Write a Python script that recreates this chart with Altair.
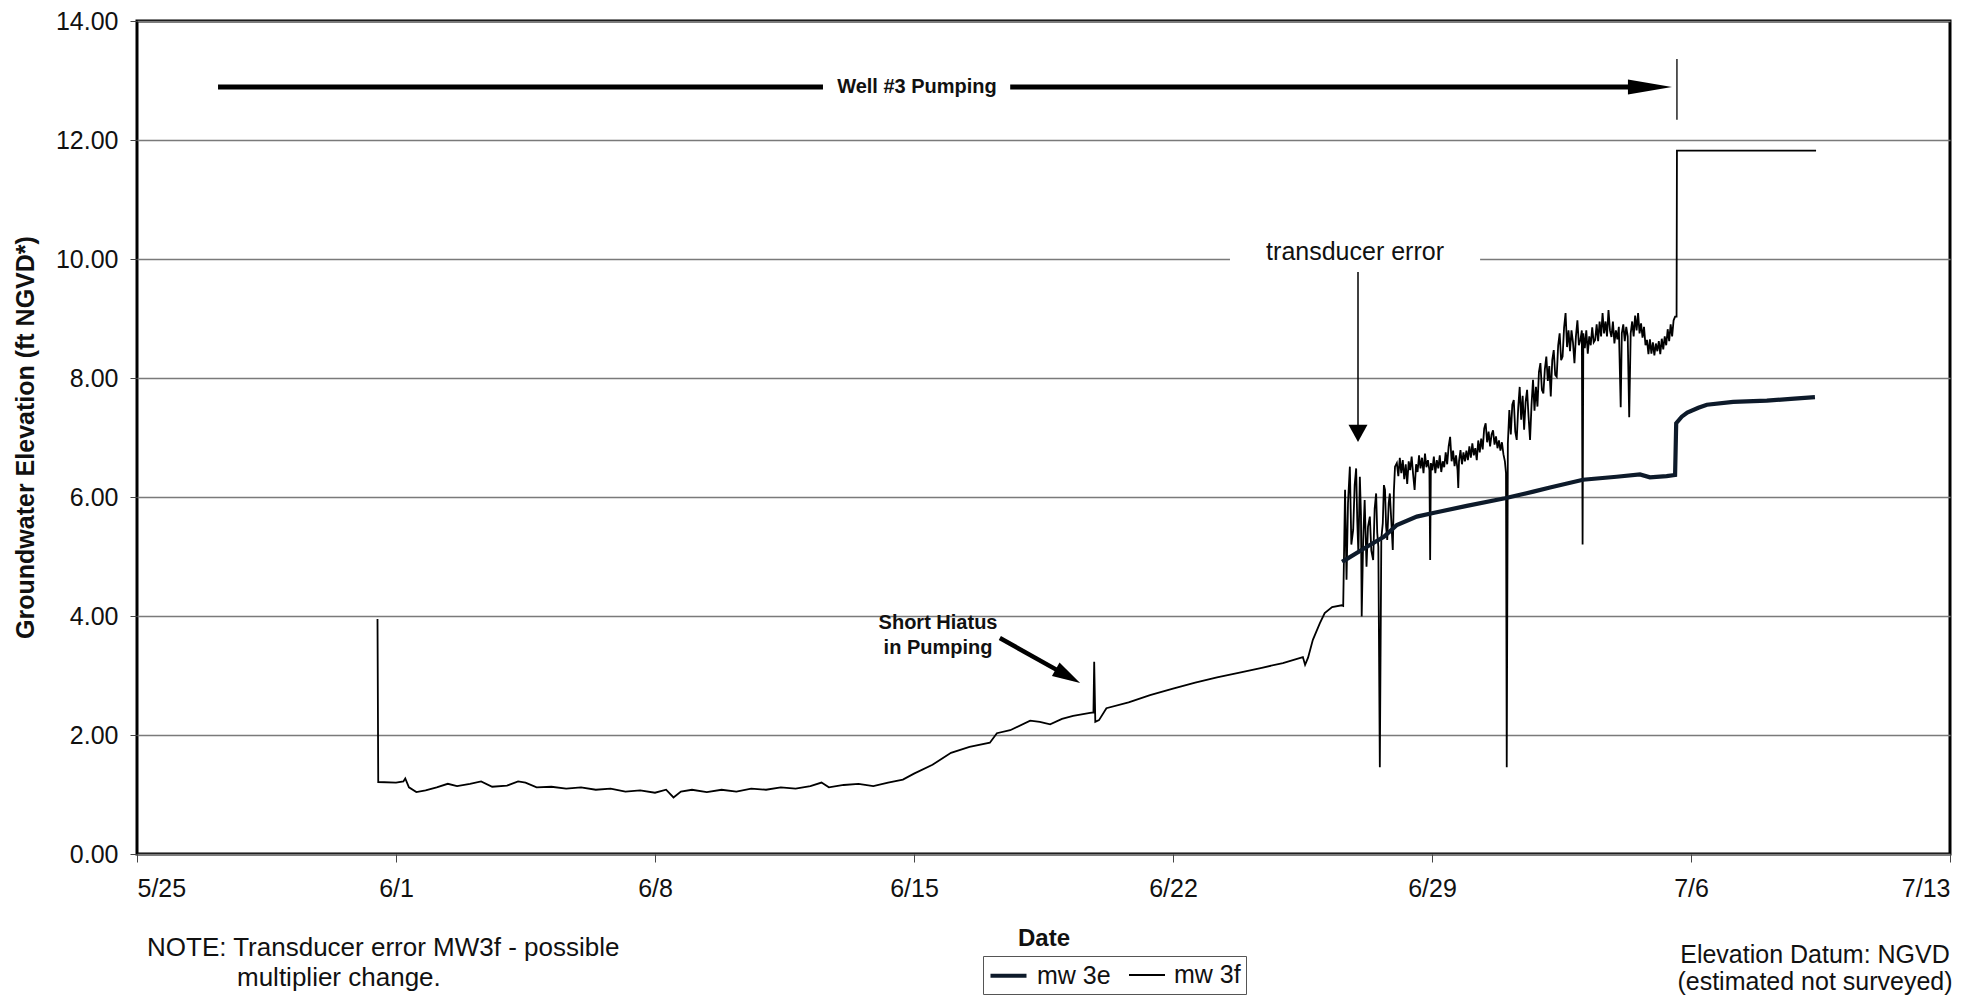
import json
import altair as alt
import pandas as pd

FONT = "Liberation Sans, Arial, sans-serif"

# ---------------- data (days after 5/25, elevation ft NGVD) ----------------
x_tick_days = [0, 7, 14, 21, 28, 35, 42, 49]
x_tick_labels = ["5/25", "6/1", "6/8", "6/15", "6/22", "6/29", "7/6", "7/13"]
y_ticks = [0, 2, 4, 6, 8, 10, 12, 14]
series_names = ["mw 3e", "mw 3f"]

# mw 3f, smooth part (5/31 - 6/26)
mw3f_day = [6.50, 6.52, 7.0, 7.2, 7.25, 7.35, 7.55, 7.8, 8.1, 8.4, 8.65, 9.0, 9.3, 9.6,
            10.0, 10.3, 10.5, 10.8, 11.2, 11.6, 12.0, 12.4, 12.8, 13.2, 13.6, 14.0, 14.3,
            14.5, 14.7, 15.0, 15.4, 15.8, 16.2, 16.6, 17.0, 17.4, 17.8, 18.2, 18.5, 18.7,
            19.1, 19.5, 19.9, 20.3, 20.7, 21.0, 21.5, 22.0, 22.5, 23.05, 23.24, 23.6, 24.14,
            24.4, 24.68, 25.0, 25.3, 25.76, 25.85, 25.87, 25.9, 26.0, 26.2, 26.8, 27.38,
            28.0, 28.6, 29.19, 29.8, 30.4, 30.97, 31.51, 31.57, 31.65, 31.78, 31.97, 32.1,
            32.3, 32.56, 32.6]
mw3f_val = [3.95, 1.21, 1.20, 1.22, 1.27, 1.12, 1.04, 1.07, 1.12, 1.18, 1.14, 1.18, 1.22, 1.13,
            1.15, 1.22, 1.20, 1.12, 1.13, 1.10, 1.12, 1.08, 1.10, 1.05, 1.07, 1.03, 1.08,
            0.95, 1.05, 1.08, 1.04, 1.08, 1.05, 1.10, 1.08, 1.12, 1.10, 1.14, 1.20, 1.12,
            1.16, 1.18, 1.14, 1.20, 1.25, 1.35, 1.50, 1.70, 1.80, 1.87, 2.03, 2.08, 2.24,
            2.22, 2.18, 2.27, 2.32, 2.37, 2.38, 3.23, 2.22, 2.25, 2.45, 2.55, 2.67,
            2.78, 2.88, 2.97, 3.05, 3.13, 3.21, 3.31, 3.18, 3.30, 3.60, 3.88, 4.05,
            4.15, 4.18, 4.17]

# mw 3f, noisy part after the transducer error (6/26 - 7/5) and final plateau
noise_day = [32.65, 32.69, 32.73, 32.78, 32.82, 32.87, 32.91, 32.95, 32.98, 33.01, 33.05,
             33.08, 33.10, 33.14, 33.18, 33.23, 33.27, 33.32, 33.36, 33.41, 33.45, 33.49,
             33.52, 33.55, 33.59, 33.63, 33.67, 33.70, 33.73, 33.76, 33.79, 33.83, 33.86,
             33.90, 33.94, 33.97, 34.00,
             34.05, 34.09, 34.13, 34.17, 34.21, 34.25, 34.29, 34.33, 34.37, 34.41, 34.45,
             34.49, 34.53, 34.57, 34.61, 34.65, 34.69, 34.73, 34.77, 34.81, 34.85, 34.89,
             34.93, 34.95, 34.97, 35.01, 35.05, 35.09, 35.13, 35.17, 35.21, 35.25, 35.29,
             35.33, 35.37, 35.41, 35.45, 35.49, 35.53, 35.57, 35.61, 35.65, 35.69, 35.71,
             35.73, 35.77, 35.81, 35.85, 35.89, 35.93, 35.97, 36.01, 36.05, 36.09, 36.13,
             36.17, 36.21, 36.25, 36.29, 36.33, 36.37, 36.41, 36.45, 36.49, 36.53, 36.57,
             36.61, 36.65, 36.69, 36.73, 36.77, 36.81, 36.85, 36.89, 36.93, 36.97, 37.00,
             37.02,
             37.05, 37.09, 37.13, 37.17, 37.21, 37.25, 37.29, 37.33, 37.37, 37.41, 37.45,
             37.49, 37.53, 37.57, 37.61, 37.65, 37.69, 37.73, 37.77, 37.81, 37.85, 37.89,
             37.93, 37.97, 38.01, 38.05, 38.09, 38.13, 38.17, 38.21, 38.25, 38.29, 38.33,
             38.37, 38.41, 38.45, 38.49, 38.53, 38.57, 38.61, 38.65, 38.69, 38.73, 38.77,
             38.81, 38.85, 38.89, 38.93, 38.97, 39.01, 39.05, 39.07, 39.09, 39.13, 39.17,
             39.21, 39.25, 39.29, 39.33, 39.37, 39.41, 39.45, 39.49, 39.53, 39.57, 39.61,
             39.65, 39.69, 39.73, 39.77, 39.81, 39.85, 39.89, 39.93, 39.97, 40.01, 40.05,
             40.10, 40.13, 40.17, 40.21, 40.25, 40.29, 40.33, 40.37, 40.41, 40.45, 40.49,
             40.53, 40.57, 40.61, 40.65, 40.69, 40.73, 40.77, 40.81, 40.85, 40.89, 40.93,
             40.97, 41.01, 41.05, 41.09, 41.13, 41.17, 41.21, 41.25, 41.29, 41.33, 41.37,
             41.41, 41.45, 41.49, 41.53, 41.57, 41.61, 41.62, 45.38]
noise_val = [6.12, 4.61, 5.90, 6.51, 5.20, 5.45, 6.20, 6.48, 5.60, 5.05, 6.34,
             5.70, 3.99, 5.28, 5.95, 4.83, 5.50, 5.67, 5.10, 4.94, 5.80, 6.06,
             5.40, 5.16, 1.46, 5.30, 5.56, 6.20, 6.12, 5.50, 5.28, 5.90, 6.06,
             5.60, 5.11, 6.10, 6.51,
             6.57, 6.35, 6.66, 6.40, 6.62, 6.30, 6.55, 6.22, 6.60, 6.45, 6.68,
             6.38, 6.12, 6.55, 6.42, 6.70, 6.48, 6.66, 6.40, 6.73, 6.50, 6.62,
             6.45, 4.94, 6.57, 6.45, 6.68, 6.40, 6.62, 6.48, 6.70, 6.42, 6.60,
             6.50, 6.75, 6.55, 6.85, 7.01, 6.60, 6.78, 6.52, 6.70, 6.45, 6.15,
             6.60, 6.79, 6.55, 6.75, 6.60, 6.78, 6.62, 6.85, 6.66, 6.90, 6.70,
             6.82, 6.62, 6.95, 6.75, 6.98, 6.80, 7.15, 7.24, 6.92, 7.10, 6.85,
             7.05, 7.12, 6.88, 7.02, 6.82, 6.95, 6.78, 6.92, 6.72, 6.60, 6.40,
             1.46,
             6.90, 7.46, 7.05, 7.55, 7.63, 7.10, 6.96, 7.50, 7.85, 7.30, 7.70,
             7.13, 7.60, 7.80, 7.35, 6.96, 7.55, 7.97, 7.45, 7.85, 7.52, 8.10,
             8.25, 7.80, 7.74, 8.15, 8.36, 7.95, 8.20, 7.69, 8.30, 8.47, 8.05,
             8.02, 8.55, 8.75, 8.30, 8.36, 8.85, 9.09, 8.52, 8.80, 8.45, 8.80,
             8.60, 8.25, 8.70, 8.97, 8.55, 8.64, 8.80, 5.20, 8.75, 8.50, 8.80,
             8.41, 8.70, 8.55, 8.85, 8.60, 8.64, 8.90, 8.62, 8.95, 8.70, 9.09,
             8.75, 8.95, 8.70, 9.14, 8.80, 8.69, 8.95, 8.58, 8.80, 8.65, 8.86,
             7.51, 8.75, 8.90, 8.62, 8.86, 8.70, 7.34, 8.75, 8.95, 8.70, 9.05,
             8.80, 9.09, 8.75, 8.92, 8.68, 8.86, 8.55, 8.64, 8.40, 8.65, 8.41,
             8.60, 8.38, 8.58, 8.45, 8.62, 8.40, 8.66, 8.48, 8.70, 8.55, 8.82,
             8.62, 8.90, 8.70, 8.97, 9.03, 9.03, 11.82, 11.82]

mw3e_day = [32.57, 33.23, 33.70, 34.05, 34.59, 35.03, 35.94, 36.97, 37.74, 38.19, 39.08,
            39.99, 40.62, 40.89, 41.34, 41.57, 41.60, 41.75, 41.90, 42.20, 42.43, 43.14,
            44.05, 44.70, 45.35]
mw3e_val = [4.91, 5.16, 5.33, 5.53, 5.67, 5.73, 5.85, 5.98, 6.09, 6.16, 6.29,
            6.34, 6.38, 6.33, 6.35, 6.37, 7.24, 7.35, 7.42, 7.50, 7.55, 7.60,
            7.62, 7.65, 7.68]

# annotations (in data units)
pump_seg_d = [2.19, 23.60]
pump_seg_d2 = [18.54, 40.89]
pump_level = 12.89
pump_text = "Well #3 Pumping"
pump_text_d = 21.08
pump_head_d = 40.89
pump_end_d = 41.62
pump_end_v = [12.34, 13.36]

err_text = "transducer error"
err_text_pos = [32.92, 10.12]
err_gap = [29.54, 36.30, 10.0]
err_line = [33.0, 9.78, 7.20]
err_head = [33.0, 7.07]

hiatus_lines = ["Short Hiatus", "in Pumping"]
hiatus_text_d = 21.65
hiatus_text_v = [3.88, 3.46]
hiatus_arrow = [23.32, 3.63, 25.16, 2.99]
hiatus_angle = 29.4

note_lines = ["NOTE: Transducer error MW3f - possible", "multiplier change."]
datum_lines = ["Elevation Datum: NGVD", "(estimated not surveyed)"]

# ---------------- tables ----------------
df_f = pd.DataFrame({"d": mw3f_day + noise_day, "v": mw3f_val + noise_val,
                     "series": "mw 3f"})
df_e = pd.DataFrame({"d": mw3e_day, "v": mw3e_val, "series": "mw 3e"})

label_expr = json.dumps(x_tick_labels) + "[round(datum.value / 7)]"

x_enc = alt.X("d:Q", scale=alt.Scale(domain=[0, 49], nice=False, zero=False),
              axis=alt.Axis(values=x_tick_days, labelExpr=label_expr, grid=False,
                            domain=False, ticks=True, tickSize=8, tickColor="#444",
                            labelFontSize=25, labelPadding=14, labelColor="#111",
                            title="Date", titleFontSize=24, titleFontWeight="bold",
                            titleColor="#111", titleY=84, titleBaseline="middle"))
y_enc = alt.Y("v:Q", scale=alt.Scale(domain=[0, 14], nice=False),
              axis=alt.Axis(values=y_ticks, format=".2f", grid=True, gridColor="#7a7a7a",
                            gridWidth=1.3, domain=False, tickSize=7, tickColor="#444",
                            labelFontSize=25, labelPadding=12, labelColor="#111",
                            title="Groundwater Elevation (ft NGVD*)", titleFontSize=25,
                            titleFontWeight="bold", titleColor="#111", titleX=-112,
                            titleY=416, titleAngle=270, titleAlign="center",
                            titleBaseline="middle"))

legend = alt.Legend(orient="none", legendX=846, legendY=935, direction="horizontal",
                    title=None, strokeColor="#555", fillColor="white", padding=5,
                    symbolType="M-1,0L2,0", symbolSize=576, labelFontSize=25,
                    labelFont=FONT, labelColor="#111", labelOffset=20, columnPadding=14)
color_enc = alt.Color("series:N", scale=alt.Scale(domain=series_names,
                                                   range=["#0d1a2a", "#000000"]),
                      legend=legend)
sw_enc = alt.StrokeWidth("series:N", scale=alt.Scale(domain=series_names, range=[4.2, 1.8]),
                         legend=legend)

line_f = alt.Chart(df_f).mark_line(interpolate="linear").encode(
    x=x_enc, y=y_enc, color=color_enc, strokeWidth=sw_enc, order=alt.Order("d:Q"))
line_e = alt.Chart(df_e).mark_line(interpolate="linear").encode(
    x="d:Q", y="v:Q", color=color_enc, strokeWidth=sw_enc, order=alt.Order("d:Q"))

# Well #3 pumping arrow
pump_df = pd.DataFrame({"d": pump_seg_d, "d2": pump_seg_d2, "v": [pump_level] * 2})
pump_lines = alt.Chart(pump_df).mark_rule(color="black", strokeWidth=5).encode(
    x="d:Q", x2="d2:Q", y="v:Q")
pump_head = alt.Chart(pd.DataFrame({"d": [pump_head_d], "v": [pump_level]})).mark_point(
    shape="M-1,-0.34 L1,0 L-1,0.34 Z", filled=True, size=1936, color="black", opacity=1
).encode(x="d:Q", y="v:Q")
pump_end = alt.Chart(pd.DataFrame({"d": [pump_end_d], "v": [pump_end_v[0]],
                                   "v2": [pump_end_v[1]]})).mark_rule(
    color="black", strokeWidth=1.3).encode(x="d:Q", y="v:Q", y2="v2:Q")
pump_lbl = alt.Chart(pd.DataFrame({"d": [pump_text_d], "v": [pump_level],
                                   "t": [pump_text]})).mark_text(
    font=FONT, fontSize=20, fontWeight="bold", color="#111", baseline="middle",
    align="center").encode(x="d:Q", y="v:Q", text="t:N")

# transducer error annotation
err_gap_l = alt.Chart(pd.DataFrame({"d": [err_gap[0]], "d2": [err_gap[1]],
                                    "v": [err_gap[2]]})).mark_rule(
    color="white", strokeWidth=5).encode(x="d:Q", x2="d2:Q", y="v:Q")
err_lbl = alt.Chart(pd.DataFrame({"d": [err_text_pos[0]], "v": [err_text_pos[1]],
                                  "t": [err_text]})).mark_text(
    font=FONT, fontSize=25, color="#111", baseline="middle", align="center").encode(
    x="d:Q", y="v:Q", text="t:N")
err_vline = alt.Chart(pd.DataFrame({"d": [err_line[0]], "v": [err_line[1]],
                                    "v2": [err_line[2]]})).mark_rule(
    color="black", strokeWidth=1.5).encode(x="d:Q", y="v:Q", y2="v2:Q")
err_headm = alt.Chart(pd.DataFrame({"d": [err_head[0]], "v": [err_head[1]]})).mark_point(
    shape="M-1,-0.9 L1,-0.9 L0,0.9 Z", filled=True, size=361, color="black", opacity=1
).encode(x="d:Q", y="v:Q")

# short hiatus annotation
hi_lbl = alt.Chart(pd.DataFrame({"d": [hiatus_text_d] * 2, "v": hiatus_text_v,
                                 "t": hiatus_lines})).mark_text(
    font=FONT, fontSize=20, fontWeight="bold", color="#111", baseline="middle",
    align="center").encode(x="d:Q", y="v:Q", text="t:N")
hi_line = alt.Chart(pd.DataFrame({"d": [hiatus_arrow[0]], "v": [hiatus_arrow[1]],
                                  "d2": [hiatus_arrow[2]], "v2": [hiatus_arrow[3]]})).mark_rule(
    color="black", strokeWidth=4.5).encode(x="d:Q", y="v:Q", x2="d2:Q", y2="v2:Q")
hi_head = alt.Chart(pd.DataFrame({"d": [hiatus_arrow[2]], "v": [hiatus_arrow[3]]})).mark_point(
    shape="M-1,-0.55 L1,0 L-1,0.55 Z", filled=True, size=784, color="black", opacity=1,
    angle=hiatus_angle).encode(x="d:Q", y="v:Q")

# footnotes (outside plot area, pixel placement)
note1 = alt.Chart(pd.DataFrame({"t": [note_lines[0]]})).mark_text(
    font=FONT, fontSize=26, color="#111", align="left", baseline="middle").encode(
    x=alt.value(10), y=alt.value(927), text="t:N")
note2 = alt.Chart(pd.DataFrame({"t": [note_lines[1]]})).mark_text(
    font=FONT, fontSize=26, color="#111", align="left", baseline="middle").encode(
    x=alt.value(100), y=alt.value(957), text="t:N")
datum1 = alt.Chart(pd.DataFrame({"t": [datum_lines[0]]})).mark_text(
    font=FONT, fontSize=25, color="#111", align="center", baseline="middle").encode(
    x=alt.value(1678), y=alt.value(934), text="t:N")
datum2 = alt.Chart(pd.DataFrame({"t": [datum_lines[1]]})).mark_text(
    font=FONT, fontSize=25, color="#111", align="center", baseline="middle").encode(
    x=alt.value(1678), y=alt.value(961), text="t:N")

chart = alt.layer(
    line_f, line_e, pump_lines, pump_head, pump_end, pump_lbl,
    err_gap_l, err_lbl, err_vline, err_headm, hi_lbl, hi_line, hi_head,
    note1, note2, datum1, datum2
).resolve_scale(color="shared", strokeWidth="shared").properties(
    width=1813, height=833,
    autosize=alt.AutoSizeParams(type="none"),
    padding={"left": 129, "top": 13, "right": 21, "bottom": 142},
    background="white",
).configure_view(stroke="black", strokeWidth=3).configure_axis(
    labelFont=FONT, titleFont=FONT).configure_text(font=FONT)

chart.save("out.html", embed_options={"renderer": "svg", "actions": False})
